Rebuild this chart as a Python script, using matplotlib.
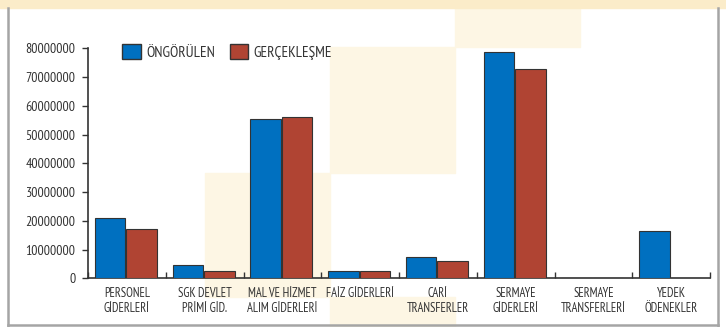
import matplotlib
matplotlib.use('Agg')
import matplotlib.pyplot as plt
from matplotlib.patches import Rectangle, Patch
import numpy as np

categories = ["PERSONEL\nGİDERLERİ", "SGK DEVLET\nPRİMİ GİD.", "MAL VE HİZMET\nALIM GİDERLERİ",
              "FAİZ GİDERLERİ", "CARİ\nTRANSFERLER", "SERMAYE\nGİDERLERİ",
              "SERMAYE\nTRANSFERLERİ", "YEDEK\nÖDENEKLER"]
ongorulen = [21100000, 4500000, 55400000, 2500000, 7400000, 78700000, 0, 16300000]
gerceklesme = [17000000, 2600000, 56100000, 2500000, 5900000, 72700000, 0, 0]
yticks = [0, 10000000, 20000000, 30000000, 40000000, 50000000, 60000000, 70000000, 80000000]

plt.rcParams['font.family'] = ['PT Sans Narrow', 'DejaVu Sans']
txt = '#333333'

fig = plt.figure(figsize=(7.26, 3.27), dpi=100)
W, H = 726.0, 327.0

# page decoration: top band, light checker cells, frame
def box(x0, y0, x1, y1, color):
    fig.patches.append(Rectangle((x0 / W, 1 - y1 / H), (x1 - x0) / W, (y1 - y0) / H,
                                 transform=fig.transFigure, color=color, zorder=0))

cream = '#fdf6e4'
box(205, 173, 330, 297, cream)
box(330, 47, 455, 173, cream)
box(330, 297, 455, 327, cream)
box(455, 8, 580, 47, cream)
box(0, 0, 726, 8, '#fbecc9')
frame = '#a5a5a5'
fig.add_artist(plt.Line2D([8 / W, 8 / W], [0, 1 - 8 / H], color=frame, lw=1.8, transform=fig.transFigure))
fig.add_artist(plt.Line2D([718 / W, 718 / W], [0, 1 - 8 / H], color=frame, lw=1.8, transform=fig.transFigure))
fig.add_artist(plt.Line2D([8 / W, 718 / W], [1 - 325 / H] * 2, color=frame, lw=1.8, transform=fig.transFigure))

ax = fig.add_axes([88 / W, 1 - 278.3 / H, 622 / W, 230 / H])
ax.set_zorder(2)
ax.patch.set_alpha(0)

x = np.arange(len(categories))
w = 0.39
ax.bar(x - 0.215, ongorulen, w, color='#0070c0', edgecolor='#333333', linewidth=0.8, zorder=3)
ax.bar(x + 0.19, gerceklesme, w, color='#b04433', edgecolor='#333333', linewidth=0.8, zorder=3)

ax.set_xlim(-0.5, len(categories) - 0.5)
ax.set_ylim(0, 80000000)
ax.set_yticks(yticks)
ax.set_yticklabels([str(v) for v in yticks])
ax.set_xticks(x)
ax.set_xticklabels(categories, linespacing=1.2)
ax.set_xticks(np.arange(-0.5, len(categories)), minor=True)

ax.tick_params(axis='x', which='major', length=0, pad=6, labelsize=9, labelcolor=txt)
ax.tick_params(axis='x', which='minor', direction='in', length=4, width=1, color=txt)
ax.tick_params(axis='y', direction='out', length=4, width=1, color=txt, pad=5, labelsize=10, labelcolor=txt)

for s in ['top', 'right']:
    ax.spines[s].set_visible(False)
for s in ['left', 'bottom']:
    ax.spines[s].set_color(txt)
    ax.spines[s].set_linewidth(1.2)

handles = [Patch(facecolor='#0070c0', edgecolor='#333333', label='ÖNGÖRÜLEN'),
           Patch(facecolor='#b04433', edgecolor='#333333', label='GERÇEKLEŞME')]
leg = ax.legend(handles=handles, loc='center left', bbox_to_anchor=(0.055, 0.985), ncol=2,
                frameon=False, borderpad=0, borderaxespad=0, handlelength=1.2, handleheight=1.2,
                handletextpad=0.35, columnspacing=1.0, fontsize=11)
for t in leg.get_texts():
    t.set_color(txt)

plt.savefig('out.png', dpi=100)
